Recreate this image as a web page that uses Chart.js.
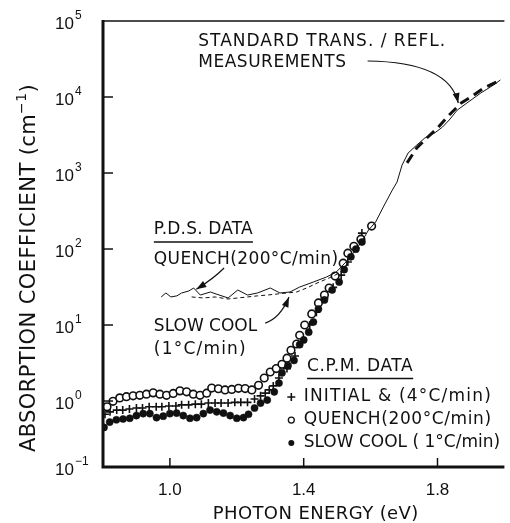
<!DOCTYPE html>
<html><head><meta charset="utf-8">
<script src="https://cdn.jsdelivr.net/npm/chart.js@4/dist/chart.umd.min.js"></script>
<style>html,body{margin:0;padding:0;background:#fff}</style>
</head><body>
<canvas id="c" width="510" height="523"></canvas>
<script>
// ---- data (photon energy in eV, absorption coefficient in cm^-1) ----
const xTicks = [1.0, 1.4, 1.8];
const yDecades = [-1, 0, 1, 2, 3, 4, 5];
const yAxisMin = 0.1355;   // bottom of the drawn axis (labelled 10^-1 in the original)
const yAxisMax = 1e5;

const cpmInitialE = [0.806,0.821,0.841,0.859,0.879,0.90,0.918,0.938,0.959,0.976,0.997,1.018,1.035,1.056,1.076,1.094,1.115,1.135,1.153,1.174,1.194,1.212,1.232,1.253,1.271,1.285,1.297,1.309,1.326,1.35,1.374,1.394,1.418,1.438,1.462,1.488,1.512,1.532,1.556,1.574];
const cpmInitialA = [0.67,0.72,0.76,0.76,0.785,0.81,0.81,0.84,0.84,0.84,0.86,0.86,0.89,0.89,0.91,0.91,0.94,0.94,0.94,0.94,0.96,0.96,0.96,1.065,1.17,1.27,1.40,1.58,2.01,2.67,3.91,6.0,10.0,14.7,22.5,31.3,45.3,67.4,103,162];

const cpmQuenchE = [0.812,0.83,0.85,0.87,0.89,0.91,0.93,0.95,0.97,0.99,1.01,1.03,1.05,1.07,1.09,1.11,1.125,1.145,1.165,1.185,1.205,1.225,1.245,1.265,1.282,1.300,1.318,1.335,1.35,1.362,1.379,1.388,1.403,1.424,1.444,1.462,1.476,1.494,1.518,1.532,1.55,1.571,1.603];
const cpmQuenchA = [0.84,0.99,1.10,1.14,1.17,1.19,1.23,1.28,1.23,1.19,1.26,1.36,1.32,1.23,1.19,1.27,1.48,1.45,1.40,1.42,1.47,1.46,1.40,1.61,2.01,2.41,2.67,3.04,3.66,4.65,5.63,7.33,10.0,14.0,19.5,24.8,30.7,44.1,65.1,88.1,108.7,134.9,200.6];

const cpmSlowE = [0.803,0.82,0.84,0.86,0.88,0.90,0.92,0.94,0.96,0.98,1.00,1.02,1.04,1.06,1.08,1.10,1.12,1.14,1.16,1.18,1.20,1.22,1.235,1.253,1.271,1.291,1.312,1.326,1.335,1.353,1.371,1.388,1.40,1.415,1.429,1.444,1.462,1.485,1.506,1.521,1.541,1.556,1.574];
const cpmSlowA = [0.45,0.528,0.567,0.58,0.593,0.644,0.683,0.683,0.605,0.631,0.683,0.695,0.644,0.593,0.605,0.683,0.76,0.721,0.695,0.644,0.593,0.605,0.67,0.81,0.94,1.03,1.32,1.72,2.34,2.92,3.42,5.51,6.36,8.06,10.96,16.2,21.4,28.9,36.8,53.5,78.9,99.6,123.5];

const pdsQuenchE = [0.974,0.988,1.003,1.021,1.035,1.056,1.071,1.091,1.121,1.138,1.174,1.203,1.232,1.262,1.30,1.329,1.359,1.388,1.429,1.468,1.497,1.526,1.556,1.576,1.594,1.615,1.638,1.665,1.679,1.694,1.712,1.738,1.762,1.791,1.815,1.835,1.859,1.888,1.929,1.968,1.988];
const pdsQuenchA = [23.4,26.4,23.4,24.2,26.4,28.0,30.7,24.8,27.2,25.6,22.7,28.9,24.8,26.4,30.7,26.4,27.2,31.6,36.8,42.8,49.6,67.4,97.3,131.5,178,226.5,357,597,760,1271,1830,2332,2885,3351,4026,4981,6724,8333,11251,14429,16778];

const pdsSlowE = [1.065,1.10,1.135,1.174,1.203,1.232,1.262,1.291,1.321,1.35,1.379,1.409,1.447,1.476,1.506,1.532];
const pdsSlowA = [23.4,22.7,23.4,22.0,22.7,23.4,24.2,24.8,25.6,26.4,27.2,30.7,36.8,41.6,48.2,63.9];

const stdTRE = [1.709,1.738,1.768,1.80,1.835,1.871,1.90,1.938,1.976,1.988];
const stdTRA = [1357,2130,2885,3910,5797,8333,9995,13099,15757,17287];

const zip = (xs, ys) => xs.map((x, i) => ({x, y: ys[i]}));
const FONT = '"Liberation Sans", Arial, sans-serif';
const AFONT = '"DejaVu Sans", sans-serif';

const deco = {
  id: 'deco',
  afterDraw(chart) {
    const {ctx, chartArea: a, scales: {x, y}} = chart;
    const X = v => x.getPixelForValue(v), Y = v => y.getPixelForValue(v);
    ctx.save();
    ctx.strokeStyle = '#111'; ctx.fillStyle = '#111';
    // frame
    ctx.lineWidth = 1.3;
    ctx.beginPath(); ctx.moveTo(a.left, a.top); ctx.lineTo(a.right, a.top); ctx.stroke();
    ctx.lineWidth = 3;
    ctx.beginPath(); ctx.moveTo(a.left, a.top - 1); ctx.lineTo(a.left, a.bottom); ctx.lineTo(a.right, a.bottom); ctx.stroke();
    // ticks (inward)
    ctx.lineWidth = 1.5;
    yDecades.forEach(k => {
      const v = Math.pow(10, k);
      if (v <= yAxisMin || v >= yAxisMax) return;
      const p = Y(v);
      ctx.beginPath(); ctx.moveTo(a.left, p); ctx.lineTo(a.left + 10, p); ctx.stroke();
    });
    xTicks.forEach(t => {
      const p = X(t);
      ctx.beginPath(); ctx.moveTo(p, a.bottom); ctx.lineTo(p, a.bottom - 9); ctx.stroke();
    });
    // y tick labels 10^k (the lowest one sits at the axis, as in the original)
    yDecades.forEach(k => {
      const p = Math.min(Y(Math.pow(10, k)), a.bottom);
      ctx.font = '17px ' + FONT; ctx.textAlign = 'left'; ctx.textBaseline = 'middle';
      ctx.fillText('10', 55, p + 3);
      const w = ctx.measureText('10').width;
      ctx.font = '12px ' + FONT;
      ctx.fillText(String(k).replace('-', '\u2212'), 55 + w + 1, p - 5);
    });
    // x tick labels
    ctx.font = '17px ' + FONT; ctx.textAlign = 'center'; ctx.textBaseline = 'middle';
    xTicks.forEach(t => ctx.fillText(t.toFixed(1), X(t), a.bottom + 23));
    // axis titles
    ctx.letterSpacing = '0.4px';
    ctx.font = '18px ' + AFONT;
    ctx.fillText('PHOTON ENERGY (eV)', X(1.4) + 12, a.bottom + 47);
    ctx.save();
    ctx.translate(30, 268); ctx.rotate(-Math.PI / 2);
    const t1 = 'ABSORPTION COEFFICIENT (cm', t2 = '\u22121', t3 = ')';
    ctx.font = '21px ' + AFONT; const w1 = ctx.measureText(t1).width, w3 = ctx.measureText(t3).width;
    ctx.font = '14px ' + AFONT; const w2 = ctx.measureText(t2).width;
    const tot = w1 + w2 + w3; let cx = -tot / 2;
    ctx.textAlign = 'left';
    ctx.font = '21px ' + AFONT; ctx.fillText(t1, cx, 0); cx += w1;
    ctx.font = '14px ' + AFONT; ctx.fillText(t2, cx, -8); cx += w2;
    ctx.font = '21px ' + AFONT; ctx.fillText(t3, cx, 0);
    ctx.restore();

    // annotations
    const txt = (s, ex, ay, ls) => {
      ctx.letterSpacing = (ls || 0) + 'px';
      ctx.font = '17px ' + AFONT; ctx.textAlign = 'left'; ctx.textBaseline = 'middle';
      ctx.fillText(s, X(ex), Y(ay));
      return ctx.measureText(s).width;
    };
    const arrow = (x0, y0, cx0, cy0, x1, y1) => {
      const p0 = [X(x0), Y(y0)], c = [X(cx0), Y(cy0)], p1 = [X(x1), Y(y1)];
      ctx.lineWidth = 1.2;
      ctx.beginPath(); ctx.moveTo(p0[0], p0[1]); ctx.quadraticCurveTo(c[0], c[1], p1[0], p1[1]); ctx.stroke();
      const ang = Math.atan2(p1[1] - c[1], p1[0] - c[0]);
      const L = 10, W = 3.5;
      ctx.beginPath();
      ctx.moveTo(p1[0], p1[1]);
      ctx.lineTo(p1[0] - L * Math.cos(ang) + W * Math.sin(ang), p1[1] - L * Math.sin(ang) - W * Math.cos(ang));
      ctx.lineTo(p1[0] - L * Math.cos(ang) - W * Math.sin(ang), p1[1] - L * Math.sin(ang) + W * Math.cos(ang));
      ctx.closePath(); ctx.fill();
    };
    txt('STANDARD TRANS. / REFL.', 1.085, 52930, 1);
    txt('MEASUREMENTS', 1.085, 28020, 0.5);
    arrow(1.591, 29770, 1.835, 28870, 1.862, 8340);

    const xl = 0.952;
    const wp = txt('P.D.S. DATA', xl, 177.8, 0.2);
    ctx.lineWidth = 1.5;
    ctx.beginPath(); ctx.moveTo(X(xl), Y(123.6)); ctx.lineTo(X(xl) + wp, Y(123.6)); ctx.stroke();
    txt('QUENCH(200\u00B0C/min)', xl, 71.6, 0.4);
    arrow(1.162, 56.2, 1.13, 40.6, 1.079, 29.5);
    txt('SLOW COOL', xl, 9.42, 0);
    txt('(1\u00B0C/min)', xl, 4.69, 1.2);
    arrow(1.285, 10.6, 1.33, 12.3, 1.356, 23.3);

    const wc = txt('C.P.M. DATA', 1.41, 2.80, 0.6);
    ctx.lineWidth = 1.5;
    ctx.beginPath(); ctx.moveTo(X(1.41), Y(1.98)); ctx.lineTo(X(1.41) + wc, Y(1.98)); ctx.stroke();
    // legend
    const lx = 1.363, tx = 1.40;
    const rows = [[1.13, 'INITIAL & (4\u00B0C/min)', 1.2], [0.562, 'QUENCH(200\u00B0C/min)', 0.6], [0.28, 'SLOW COOL ( 1\u00B0C/min)', 0]];
    rows.forEach(([v, s, ls]) => txt(s, tx, v, ls));
    const mx = X(lx);
    ctx.lineWidth = 1.6;
    let my = Y(rows[0][0]);
    ctx.beginPath(); ctx.moveTo(mx - 4, my); ctx.lineTo(mx + 4, my); ctx.moveTo(mx, my - 4); ctx.lineTo(mx, my + 4); ctx.stroke();
    my = Y(rows[1][0]);
    ctx.lineWidth = 1.3;
    ctx.beginPath(); ctx.arc(mx, my, 3, 0, 2 * Math.PI); ctx.stroke();
    my = Y(rows[2][0]);
    ctx.beginPath(); ctx.arc(mx, my, 3, 0, 2 * Math.PI); ctx.fill();
    ctx.restore();
  }
};

new Chart(document.getElementById('c'), {
  type: 'scatter',
  data: {
    datasets: [
      {data: zip(stdTRE, stdTRA), showLine: true, pointRadius: 0, borderColor: '#111', borderWidth: 3, borderDash: [10, 6], fill: false},
      {data: zip(pdsQuenchE, pdsQuenchA), showLine: true, pointRadius: 0, borderColor: '#111', borderWidth: 1, fill: false, tension: 0},
      {data: zip(pdsSlowE, pdsSlowA), showLine: true, pointRadius: 0, borderColor: '#111', borderWidth: 1, borderDash: [4, 3], fill: false},
      {data: zip(cpmSlowE, cpmSlowA), pointRadius: 3.6, pointBackgroundColor: '#111', pointBorderColor: '#111', pointBorderWidth: 0.5},
      {data: zip(cpmQuenchE, cpmQuenchA), pointRadius: 3.8, pointBackgroundColor: '#fff', pointBorderColor: '#111', pointBorderWidth: 1.6},
      {data: zip(cpmInitialE, cpmInitialA), pointStyle: 'cross', pointRadius: 4, pointBorderColor: '#111', pointBorderWidth: 1.6}
    ]
  },
  options: {
    responsive: false, animation: false, devicePixelRatio: 1,
    layout: {padding: {top: 21, right: 0, left: 0, bottom: 0}},
    plugins: {legend: {display: false}, tooltip: {enabled: false}},
    scales: {
      x: {type: 'linear', min: 0.8, max: 2.0, ticks: {display: false}, grid: {display: false}, border: {display: false},
          afterFit(s) { s.height = 56; }},
      y: {type: 'logarithmic', min: yAxisMin, max: yAxisMax, ticks: {display: false}, grid: {display: false}, border: {display: false},
          afterFit(s) { s.width = 103; }}
    }
  },
  plugins: [deco]
});
</script>
</body></html>
